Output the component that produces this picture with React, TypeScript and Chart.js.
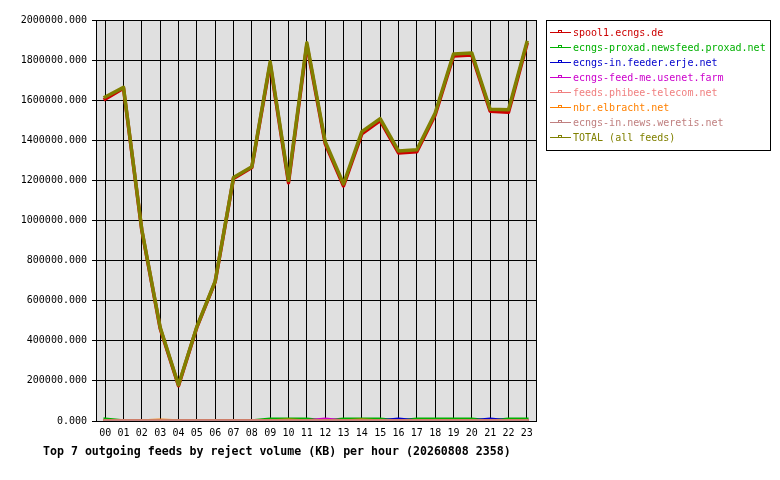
import React, { useEffect, useRef } from "react"
import { Chart, registerables } from "chart.js"

Chart.register(...registerables)

const hours = [
    "00", "01", "02", "03", "04", "05", "06", "07", "08", "09", "10", "11",
    "12", "13", "14", "15", "16", "17", "18", "19", "20", "21", "22", "23",
]

const feedNames = [
    "spool1.ecngs.de",
    "ecngs-proxad.newsfeed.proxad.net",
    "ecngs-in.feeder.erje.net",
    "ecngs-feed-me.usenet.farm",
    "feeds.phibee-telecom.net",
    "nbr.elbracht.net",
    "ecngs-in.news.weretis.net",
    "TOTAL (all feeds)",
]

const feedColors = ["#cc0000", "#00b000", "#0000cc", "#cc00cc", "#f08080", "#ff8000", "#c08080", "#808000"]

const spool1 = [
    1606000, 1660000, 950000, 462000, 176000, 467000, 694000, 1210000, 1264000, 1782000, 1188000, 1876000,
    1384000, 1172000, 1432000, 1498000, 1337000, 1343000, 1526000, 1820000, 1825000, 1545000, 1540000, 1878000,
]
const proxad = [
    9000, 0, 0, 0, 0, 0, 0, 0, 0, 9000, 9000, 9000,
    0, 9000, 9000, 9000, 0, 9000, 9000, 9000, 9000, 0, 9000, 9000,
]
const erje = [
    0, 0, 0, 0, 0, 0, 0, 0, 0, 0, 0, 0,
    0, 0, 0, 0, 9000, 0, 0, 0, 0, 9000, 0, 0,
]
const feedMe = [
    0, 0, 0, 0, 0, 0, 0, 0, 0, 0, 0, 0,
    9000, 0, 0, 0, 0, 0, 0, 0, 0, 0, 0, 0,
]
const phibee = [
    0, 0, 0, 0, 0, 0, 0, 0, 0, 0, 0, 0,
    0, 0, 0, 0, 0, 0, 0, 0, 0, 0, 0, 0,
]
const elbracht = [
    0, 0, 0, 4000, 0, 0, 0, 0, 0, 0, 4000, 0,
    0, 0, 4000, 0, 0, 0, 0, 0, 0, 0, 0, 0,
]
const weretis = [
    0, 0, 0, 0, 0, 0, 0, 0, 0, 0, 0, 0,
    0, 0, 0, 0, 0, 0, 0, 0, 0, 0, 0, 0,
]
const total = [
    1616000, 1664000, 954000, 467000, 180000, 470000, 697000, 1214000, 1268000, 1792000, 1200000, 1887000,
    1394000, 1182000, 1443000, 1508000, 1347000, 1353000, 1536000, 1830000, 1835000, 1555000, 1552000, 1888000,
]

const series = [spool1, proxad, erje, feedMe, phibee, elbracht, weretis, total]

const MONO = '"DejaVu Sans Mono", "Liberation Mono", monospace'

// plot background, frame, legend box and bottom title
const framePlugin = {
    id: "frame",
    beforeDraw(chart: Chart) {
        const { ctx, chartArea } = chart
        ctx.save()
        ctx.fillStyle = "#e0e0e0"
        ctx.fillRect(chartArea.left, chartArea.top, chartArea.right - chartArea.left, chartArea.bottom - chartArea.top)
        ctx.restore()
    },
    afterDraw(chart: Chart) {
        const { ctx, chartArea } = chart
        ctx.save()
        ctx.strokeStyle = "#000"
        ctx.lineWidth = 1
        ctx.strokeRect(chartArea.left + 0.5, chartArea.top + 0.5, chartArea.right - chartArea.left, chartArea.bottom - chartArea.top)

        // legend
        ctx.strokeRect(546.5, 20.5, 224, 130)
        ctx.font = "10px " + MONO
        ctx.textBaseline = "middle"
        ctx.textAlign = "left"
        feedNames.forEach((name, i) => {
            const r = 32 + 15 * i
            ctx.fillStyle = feedColors[i]
            ctx.strokeStyle = feedColors[i]
            ctx.fillRect(550, r, 21, 1)
            ctx.strokeRect(558.5, r - 2 + 0.5, 3, 2)
            ctx.fillText(name, 573, r + 1.5)
        })

        // title
        ctx.fillStyle = "#000"
        ctx.font = "bold 11.6px " + MONO
        ctx.fillText("Top 7 outgoing feeds by reject volume (KB) per hour (20260808 2358)", 43, 452)
        ctx.restore()
    },
}

const FeedChart: React.FC = () => {
    const chartRef = useRef<HTMLCanvasElement>(null)
    const chartInstance = useRef<Chart | null>(null)

    useEffect(() => {
        if (!chartRef.current) return
        if (chartInstance.current) {
            chartInstance.current.destroy()
        }
        const ctx = chartRef.current.getContext("2d")
        if (!ctx) return

        chartInstance.current = new Chart(ctx, {
            type: "line",
            data: {
                labels: hours,
                datasets: series.map((data, i) => ({
                    label: feedNames[i],
                    data,
                    borderColor: feedColors[i],
                    backgroundColor: feedColors[i],
                    borderWidth: 3.5,
                    borderJoinStyle: "round" as const,
                    borderCapStyle: "square" as const,
                    pointRadius: 0,
                    tension: 0,
                    fill: false,
                    // first dataset drawn first, TOTAL on top
                    order: series.length - 1 - i,
                })),
            },
            options: {
                responsive: false,
                animation: false,
                devicePixelRatio: 1,
                layout: {
                    padding: { top: 20, right: 244, left: 0, bottom: 0 },
                },
                scales: {
                    x: {
                        offset: true,
                        grid: {
                            offset: false,
                            color: "#000",
                            lineWidth: 1,
                            drawTicks: false,
                        },
                        border: { color: "#000", width: 1 },
                        ticks: {
                            color: "#000",
                            padding: 6,
                            maxRotation: 0,
                            autoSkip: false,
                            font: { family: MONO, size: 10 },
                        },
                        afterFit: (scale: any) => {
                            scale.height = 59
                        },
                    },
                    y: {
                        min: 0,
                        max: 2000000,
                        grid: {
                            color: "#000",
                            lineWidth: 1,
                            tickLength: 4,
                        },
                        border: { color: "#000", width: 1 },
                        ticks: {
                            stepSize: 200000,
                            color: "#000",
                            padding: 5,
                            font: { family: MONO, size: 10 },
                            callback: (value: any) => Number(value).toFixed(3),
                        },
                        afterFit: (scale: any) => {
                            scale.width = 96
                        },
                    },
                },
                plugins: {
                    legend: { display: false },
                    title: { display: false },
                    tooltip: { enabled: false },
                },
            },
            plugins: [framePlugin],
        })

        return () => {
            if (chartInstance.current) {
                chartInstance.current.destroy()
                chartInstance.current = null
            }
        }
    }, [])

    return <canvas ref={chartRef} width={780} height={480} />
}

export default function App() {
    return (
        <div style={{ position: "absolute", left: 0, top: 0, width: 780, height: 480, background: "#fff" }}>
            <FeedChart />
        </div>
    )
}
